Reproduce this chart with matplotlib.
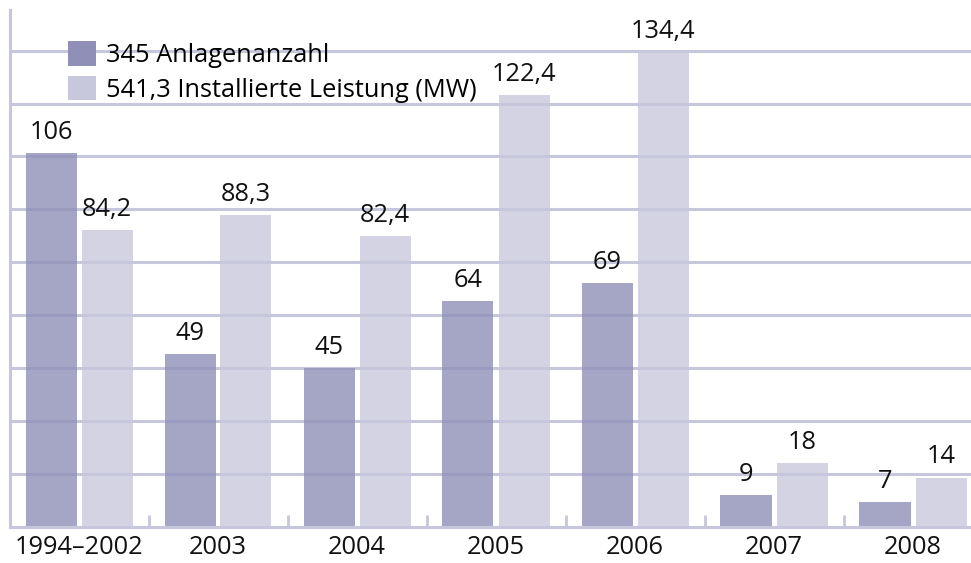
import matplotlib
matplotlib.use("Agg")
import matplotlib.pyplot as plt
import numpy as np
from matplotlib.patches import Patch

categories = ["1994–2002", "2003", "2004", "2005", "2006", "2007", "2008"]
anlagen = [106, 49, 45, 64, 69, 9, 7]
leistung = [84.2, 88.3, 82.4, 122.4, 134.4, 18, 14]
anlagen_labels = ["106", "49", "45", "64", "69", "9", "7"]
leistung_labels = ["84,2", "88,3", "82,4", "122,4", "134,4", "18", "14"]
legend_labels = ["345 Anlagenanzahl", "541,3 Installierte Leistung (MW)"]

plt.rcParams['font.family'] = ['Open Sans', 'DejaVu Sans']

dark = "#8f8fb8"
light = "#c8c8dc"
gridc = "#c6c6dd"
FS = 18.3

W, H = 971, 563
fig = plt.figure(figsize=(W / 100, H / 100), dpi=100)
ax = fig.add_axes([10 / W, 36 / H, (W - 10) / W, (527 - 10) / H])

x = np.arange(len(categories))
bw = 51 / 139
gap = 5 / 139
ax.bar(x - gap / 2 - bw / 2, anlagen, bw, color=dark, alpha=0.8, zorder=2, linewidth=0)
ax.bar(x + gap / 2 + bw / 2, leistung, bw, color=light, alpha=0.8, zorder=2, linewidth=0)

for i in range(len(categories)):
    ax.annotate(anlagen_labels[i], (x[i] - gap / 2 - bw / 2, anlagen[i]), xytext=(0, 6),
                textcoords="offset points", ha="center", va="bottom", fontsize=FS, color="#111111")
    ax.annotate(leistung_labels[i], (x[i] + gap / 2 + bw / 2, leistung[i]), xytext=(0, 6),
                textcoords="offset points", ha="center", va="bottom", fontsize=FS, color="#111111")

ax.set_xlim(-69 / 139, (971 - 79) / 139)
ax.set_ylim(0, 146.5)
ax.set_yticks(np.arange(15, 140, 15))
ax.yaxis.grid(True, color=gridc, linewidth=2.2, zorder=1)
ax.set_axisbelow(True)
ax.tick_params(axis="y", left=False, labelleft=False)

ax.set_xticks(x)
ax.set_xticklabels(categories, fontsize=FS, color="#111111")
ax.tick_params(axis="x", length=0, pad=6)
ax.set_xticks(np.arange(0.5, len(categories) - 0.5, 1), minor=True)
ax.tick_params(axis="x", which="minor", direction="in", length=9, width=2, color=gridc)

for s in ["top", "right"]:
    ax.spines[s].set_visible(False)
for s in ["left", "bottom"]:
    ax.spines[s].set_color(gridc)
    ax.spines[s].set_linewidth(2.2)

handles = [Patch(facecolor=dark, edgecolor="none"), Patch(facecolor=light, edgecolor="none")]
leg = ax.legend(handles, legend_labels, loc="upper left", bbox_to_anchor=(58 / 961, (517 - 31) / 517),
                frameon=False, fontsize=FS, handlelength=1.12, handleheight=1.12,
                handletextpad=0.36, labelspacing=0.3, borderaxespad=0, borderpad=0)

fig.savefig("out.png", dpi=100)
